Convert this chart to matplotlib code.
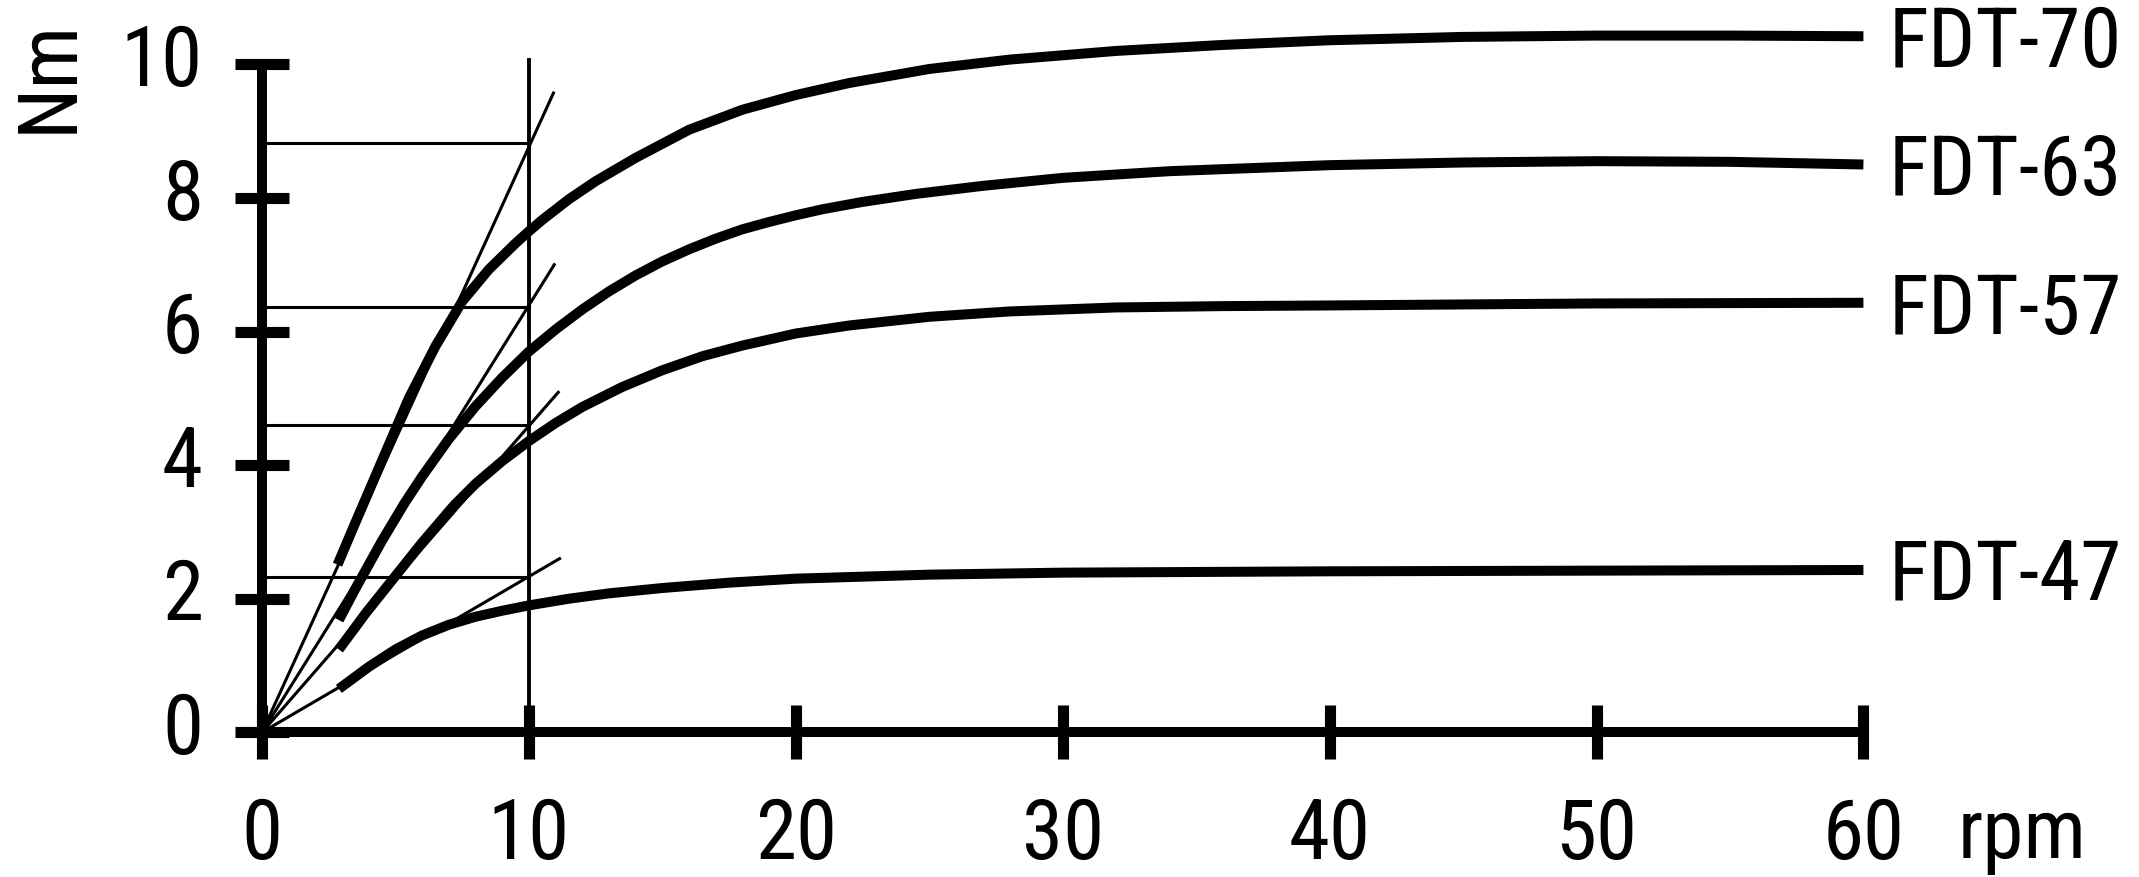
import matplotlib
matplotlib.use("Agg")
import matplotlib.pyplot as plt
import matplotlib.font_manager as fm
from matplotlib.font_manager import FontProperties
from matplotlib.textpath import TextPath
from matplotlib.transforms import ScaledTranslation

# ---------------- data ----------------
series_names = ["FDT-70", "FDT-63", "FDT-57", "FDT-47"]

fdt70_x = [2.83, 3.5, 4.5, 5.5, 6.5, 7.5, 8.5, 9.5, 10, 10.5, 11.5, 12.5, 14, 16, 18, 20, 22, 25, 28, 32, 36, 40, 45, 50, 55, 60]
fdt70_y = [2.51, 3.14, 4.07, 5.0, 5.78, 6.45, 6.93, 7.32, 7.5, 7.67, 7.98, 8.25, 8.6, 9.02, 9.32, 9.54, 9.72, 9.93, 10.07, 10.2, 10.29, 10.36, 10.41, 10.43, 10.43, 10.42]

fdt63_x = [2.88, 3.5, 4.5, 5.34, 6, 7, 8, 9, 10, 11, 12, 13, 14, 15, 16, 17, 18, 19, 20, 21, 22.5, 24.5, 27, 30, 34, 40, 45, 50, 55, 60]
fdt63_y = [1.68, 2.15, 2.87, 3.43, 3.83, 4.39, 4.88, 5.31, 5.70, 6.03, 6.33, 6.6, 6.84, 7.05, 7.23, 7.39, 7.53, 7.64, 7.74, 7.83, 7.94, 8.06, 8.18, 8.3, 8.4, 8.49, 8.53, 8.55, 8.54, 8.5]

fdt57_x = [2.88, 3.9, 5.0, 6.0, 7.2, 8.0, 9.0, 10, 11, 12, 13.5, 15, 16.5, 18, 20, 22, 25, 28, 32, 36, 40, 50, 60]
fdt57_y = [1.24, 1.79, 2.34, 2.84, 3.40, 3.72, 4.06, 4.36, 4.63, 4.87, 5.17, 5.42, 5.63, 5.79, 5.97, 6.09, 6.22, 6.3, 6.36, 6.38, 6.39, 6.42, 6.43]

fdt47_x = [2.88, 4, 5, 6, 7, 8, 9, 10, 11.5, 13, 15, 17.5, 20, 25, 30, 40, 50, 60]
fdt47_y = [0.65, 0.98, 1.24, 1.45, 1.61, 1.73, 1.82, 1.9, 2.0, 2.08, 2.16, 2.24, 2.3, 2.36, 2.39, 2.41, 2.42, 2.43]

# construction lines: torque level at 10 rpm and tangent ends
level_at_10 = [8.82, 6.37, 4.60, 2.33]
tangent_end_x = [10.92, 10.95, 11.1, 11.15]
tangent_end_y = [9.57, 7.0, 5.09, 2.60]
ref_rpm = 10
ref_top = 10.07

x_ticks = [0, 10, 20, 30, 40, 50, 60]
y_ticks = [0, 2, 4, 6, 8, 10]
x_unit = "rpm"
y_unit = "Nm"

# ---------------- font ----------------
cands = ["Liberation Sans Narrow", "Arial Narrow", "Roboto Condensed", "Archivo Narrow",
         "Pragati Narrow", "PT Sans Narrow", "Fira Sans Condensed", "Liberation Sans"]
font_path = None
for c in cands:
    hits = [f for f in fm.fontManager.ttflist if f.name == c and f.style == "normal"]
    if hits:
        best = sorted(hits, key=lambda f: abs((f.weight if isinstance(f.weight, int) else 400) - 400))[0]
        font_path = best.fname
        break

def fprop(size):
    if font_path:
        return FontProperties(fname=font_path, size=size)
    return FontProperties(family="DejaVu Sans", stretch="condensed", size=size)

base_fp = fprop(1)
digit_h_em = TextPath((0, 0), "0", size=1, prop=base_fp).get_extents().height
FS_PX = 60.7 / digit_h_em           # font size in pixels
FS = FS_PX * 0.72                   # points (dpi 100)
FP = fprop(FS)

def left_bearing_px(s):
    return TextPath((0, 0), s, size=1, prop=base_fp).get_extents().x0 * FS_PX

# ---------------- figure ----------------
W, H = 2139, 878
fig = plt.figure(figsize=(W / 100, H / 100), dpi=100)
x0_px, y0_px = 262, 733.3
px_per_x, px_per_y = 26.69, 66.8
ymax = 10.5
ax = fig.add_axes([x0_px / W, (H - y0_px) / H, 60 * px_per_x / W, ymax * px_per_y / H])
ax.set_xlim(0, 60)
ax.set_ylim(0, ymax)

SPINE_LW = 7.2
for s in ["top", "right"]:
    ax.spines[s].set_visible(False)
ax.spines["left"].set_bounds(0, 10)
ax.spines["bottom"].set_bounds(0, 60)
for s in ["left", "bottom"]:
    ax.spines[s].set_linewidth(SPINE_LW)
    ax.spines[s].set_color("black")

TICK_LEN = 39
ax.tick_params(axis="both", direction="inout", length=TICK_LEN, width=8, color="black")
ax.tick_params(axis="x", pad=(126.2 * 0.72) - TICK_LEN / 2)
ax.tick_params(axis="y", pad=(59 * 0.72) - TICK_LEN / 2)
ax.set_xticks(x_ticks)
ax.set_yticks(y_ticks)
ax.set_xticklabels([str(v) for v in x_ticks], fontproperties=FP, va="baseline")
ax.set_yticklabels([str(v) for v in y_ticks], fontproperties=FP, va="baseline")
shift = ScaledTranslation(0, -20.7 / 100, fig.dpi_scale_trans)
for lbl in ax.get_yticklabels():
    lbl.set_transform(lbl.get_transform() + shift)

CURVE_LW = 7.2
THIN = 2.2
curves = [(fdt70_x, fdt70_y), (fdt63_x, fdt63_y), (fdt57_x, fdt57_y), (fdt47_x, fdt47_y)]
label_dx_px = 1895 - (x0_px + 60 * px_per_x)
for (xs, ys), name in zip(curves, series_names):
    ax.plot(xs, ys, color="black", lw=CURVE_LW, solid_capstyle="butt",
            solid_joinstyle="round", clip_on=False, zorder=3)
    dx = (label_dx_px - left_bearing_px(name)) * 0.72
    ax.annotate(name, xy=(xs[-1], ys[-1]), xytext=(dx, -30 * 0.72), textcoords="offset points",
                fontproperties=FP, ha="left", va="baseline", annotation_clip=False)

for h, ex, ey in zip(level_at_10, tangent_end_x, tangent_end_y):
    ax.plot([0, ex], [0, ey], color="black", lw=THIN, clip_on=False, zorder=2)
    ax.plot([0, ref_rpm], [h, h], color="black", lw=THIN, clip_on=False, zorder=2)
ax.plot([ref_rpm, ref_rpm], [0, ref_top], color="black", lw=2.8, clip_on=False, zorder=2)

# axis unit labels
nm_start = 127 + left_bearing_px(y_unit)
fig.text(72 / W, 1 - nm_start / H, y_unit, rotation=90, rotation_mode="anchor",
         ha="left", va="baseline", fontproperties=FP)
fig.text((1963.3 - left_bearing_px(x_unit)) / W, 1 - 858.3 / H, x_unit,
         ha="left", va="baseline", fontproperties=FP)

fig.savefig("out.png", dpi=100, facecolor="white")
